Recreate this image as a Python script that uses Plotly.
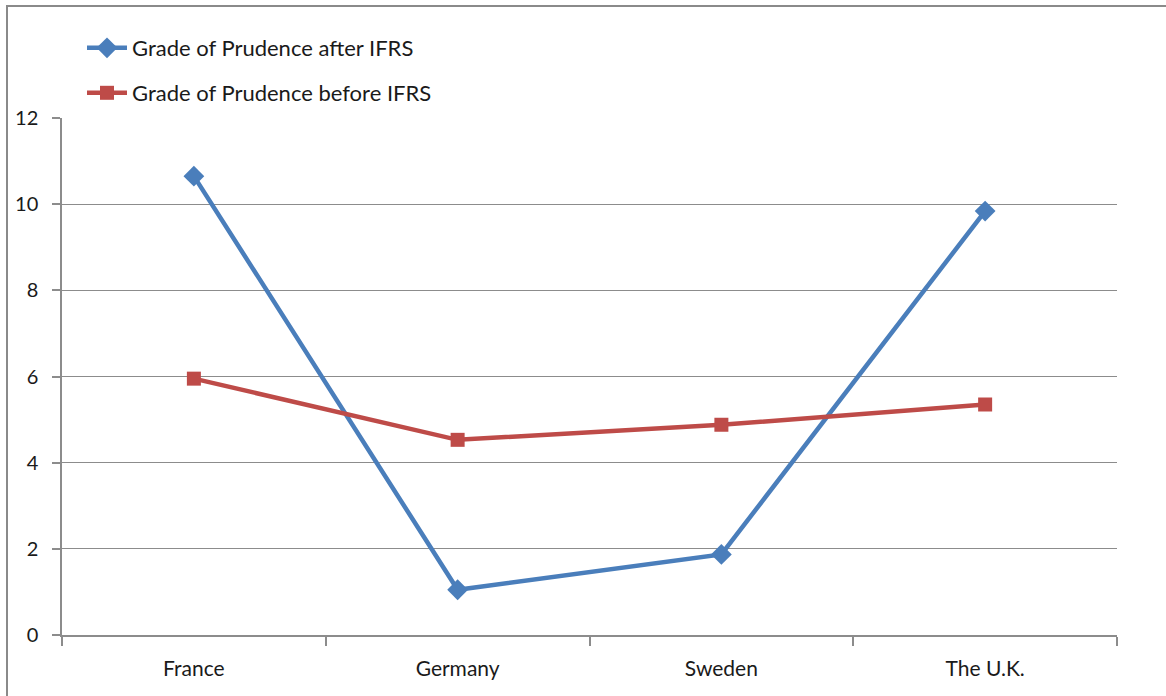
import plotly.graph_objects as go

categories = ["France", "Germany", "Sweden", "The U.K."]
after_ifrs = [10.65, 1.05, 1.87, 9.84]
before_ifrs = [5.95, 4.53, 4.88, 5.35]
series_names = ["Grade of Prudence after IFRS", "Grade of Prudence before IFRS"]
y_ticks = [0, 2, 4, 6, 8, 10, 12]

W, H = 1166, 696
L, R, T, B = 62, 49, 118, 61
pw = W - L - R
ph = H - T - B

fig = go.Figure()
fig.add_trace(go.Scatter(
    x=categories, y=after_ifrs, name=series_names[0], mode="lines+markers",
    line=dict(color="#4A7EBB", width=4.5),
    marker=dict(symbol="diamond", size=16, color="#4A7EBB"),
    legend="legend",
))
fig.add_trace(go.Scatter(
    x=categories, y=before_ifrs, name=series_names[1], mode="lines+markers",
    line=dict(color="#BE4B48", width=4.5),
    marker=dict(symbol="square", size=14, color="#BE4B48"),
    legend="legend2",
))

FAM = "Lato, Open Sans, sans-serif"
TXT = "#1a1a1a"

def leg(ycenter):
    return dict(
        x=(82 - L) / pw, y=1 + (T - ycenter) / ph, xanchor="left", yanchor="middle",
        bgcolor="rgba(0,0,0,0)", font=dict(family=FAM, size=22, color=TXT),
        itemwidth=40,
    )

fig.update_layout(
    width=W, height=H,
    margin=dict(l=L, r=R, t=T, b=B, pad=0),
    paper_bgcolor="white", plot_bgcolor="white",
    font=dict(family=FAM, size=20, color=TXT),
    showlegend=True,
    legend=leg(48),
    legend2=leg(93),
    xaxis=dict(
        type="category", range=[-0.5, 3.5],
        showline=True, linecolor="#8c8c8c", linewidth=1.5,
        ticks="outside", ticklen=9, tickcolor="#8c8c8c", tickwidth=1.5,
        tickson="boundaries",
        showgrid=False, zeroline=False,
        tickfont=dict(family=FAM, size=21, color=TXT), ticklabelstandoff=14,
    ),
    yaxis=dict(
        range=[0, 12], tickvals=y_ticks,
        showline=True, linecolor="#8c8c8c", linewidth=1.5,
        ticks="outside", ticklen=8, tickcolor="#8c8c8c", tickwidth=1.5,
        showgrid=True, gridcolor="#8c8c8c", gridwidth=1.3,
        zeroline=False,
        tickfont=dict(family=FAM, size=20, color=TXT), ticklabelstandoff=10,
    ),
    shapes=[dict(
        type="rect", xref="paper", yref="paper",
        x0=(7 - L) / pw, x1=(1175 - L) / pw,
        y0=-(B + 20) / ph, y1=1 + (T - 6) / ph,
        line=dict(color="#8a8a8a", width=2), fillcolor="rgba(0,0,0,0)",
        layer="below",
    )],
)

fig.write_html(
    "out.html",
    config={"displayModeBar": False},
    post_script="document.body.style.margin='0';",
)
